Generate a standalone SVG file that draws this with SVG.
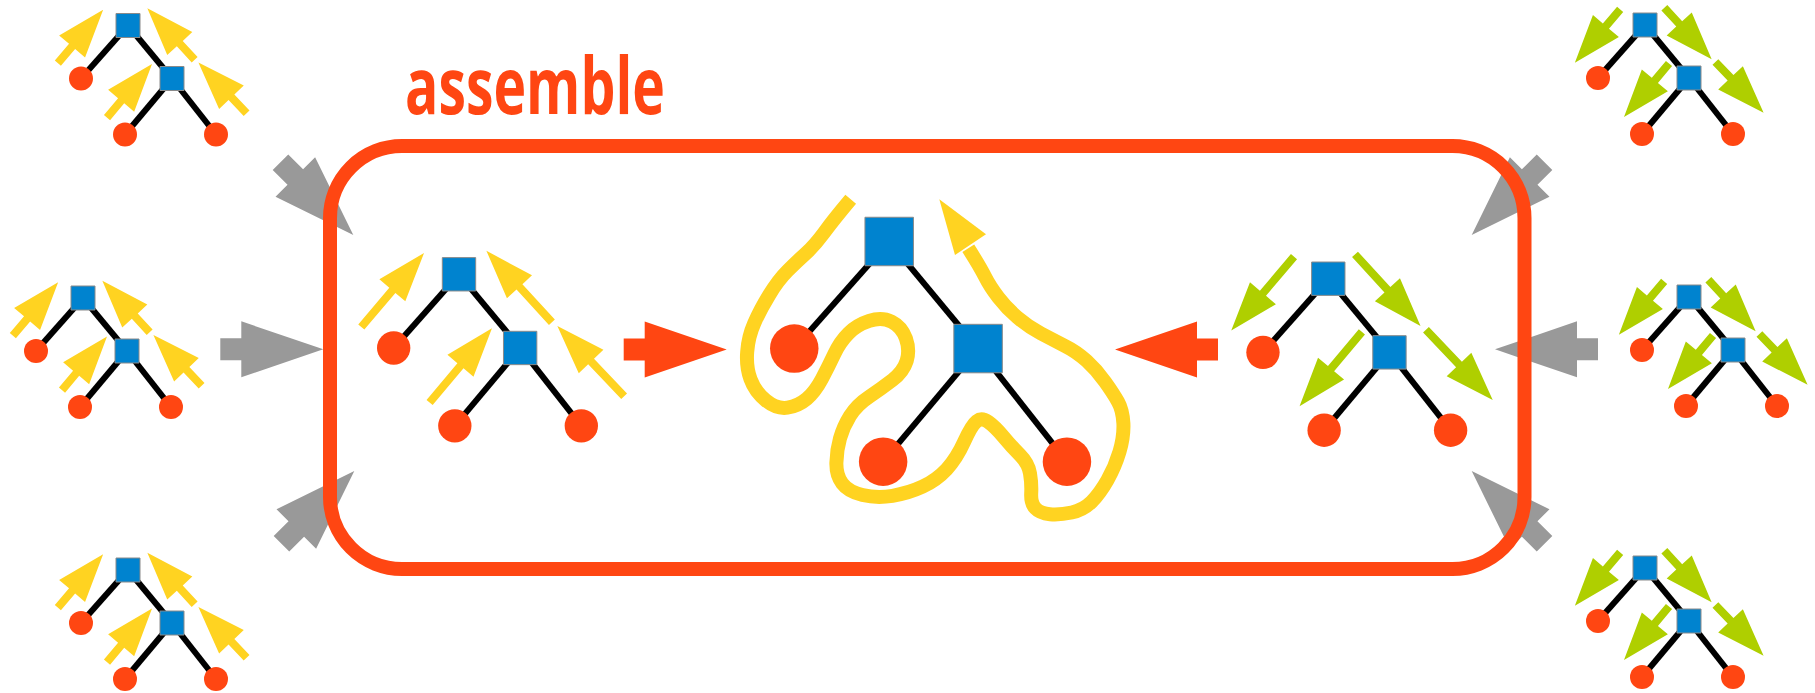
<svg xmlns="http://www.w3.org/2000/svg" xmlns:xlink="http://www.w3.org/1999/xlink" width="1815" height="693" viewBox="0 0 1815 693">
<style>
.edge{stroke:#000;stroke-width:6;vector-effect:non-scaling-stroke}
.leaf{fill:#FF4612}
.sq{fill:#0083CF;stroke:#8a8a8a;stroke-width:1;vector-effect:non-scaling-stroke}
.ya{fill:#FFD321}
.ga{fill:#AFCF00}
.gray{fill:#999999}
.red{fill:#FF4612}
.box{fill:none;stroke:#FF4612;stroke-width:14}
.curve{fill:none;stroke:#FFD321;stroke-width:14;stroke-linejoin:round}
.label{font-family:"Open Sans","Liberation Sans",sans-serif;font-weight:700;font-size:78px;fill:#FF4612}
</style>
<defs>
<path id="aS" d="M-35,-4H-13V-17L35,0L-13,17V4H-35Z"/>
<path id="aM" d="M-49,-4H-1V-17L48,0L-1,17V4H-49Z"/>
<path id="aB" d="M-103,-11H-82V-28L0,0L-82,28V11H-103Z"/>
<g id="skel">
<line class="edge" x1="0" y1="0" x2="-47" y2="53"/>
<line class="edge" x1="0" y1="0" x2="44" y2="53"/>
<line class="edge" x1="44" y1="53" x2="-3" y2="109"/>
<line class="edge" x1="44" y1="53" x2="88" y2="109"/>
<circle class="leaf" cx="-47" cy="53" r="12"/>
<circle class="leaf" cx="-3" cy="109" r="12"/>
<circle class="leaf" cx="88" cy="109" r="12"/>
<rect class="sq" x="-12" y="-12" width="24" height="24"/>
<rect class="sq" x="32" y="41" width="24" height="24"/>
</g>
<g id="tY">
<use href="#skel"/>
<g class="ya">
<use href="#aS" transform="translate(-47.5,11) rotate(-49.7)"/>
<use href="#aS" transform="translate(43,8.5) rotate(-132.5)"/>
<use href="#aS" transform="translate(1.5,65.3) rotate(-50)"/>
<use href="#aS" transform="translate(94.5,62.3) rotate(-133.5)"/>
</g>
</g>
<g id="tG">
<use href="#skel"/>
<g class="ga">
<use href="#aS" transform="translate(-47.5,11) rotate(130.3)"/>
<use href="#aS" transform="translate(43,8.5) rotate(47.5)"/>
<use href="#aS" transform="translate(1.5,65.3) rotate(130)"/>
<use href="#aS" transform="translate(94.5,62.3) rotate(46.5)"/>
</g>
</g>
</defs>

<g id="connectors">
<g class="gray">
<use href="#aB" transform="translate(353.3,235) rotate(45)"/>
<use href="#aB" transform="translate(323.3,349.3)"/>
<use href="#aB" transform="translate(354.3,471) rotate(-45)"/>
<use href="#aB" transform="translate(1471.7,235) rotate(135)"/>
<use href="#aB" transform="translate(1495,349.3) rotate(180)"/>
<use href="#aB" transform="translate(1471.7,471) rotate(-135)"/>
</g>
</g>

<g id="assemble-box">
<rect class="box" x="330" y="146" width="1194.5" height="423" rx="72" ry="72"/>
<text class="label" x="405" y="114" textLength="260" lengthAdjust="spacingAndGlyphs">assemble</text>
</g>

<g id="tree-left-top"><use href="#tY" transform="translate(128,25.5)"/></g>
<g id="tree-left-mid"><use href="#tY" transform="translate(83,298)"/></g>
<g id="tree-left-bottom"><use href="#tY" transform="translate(128,570)"/></g>
<g id="tree-right-top"><use href="#tG" transform="translate(1645,25)"/></g>
<g id="tree-right-mid"><use href="#tG" transform="translate(1689,297)"/></g>
<g id="tree-right-bottom"><use href="#tG" transform="translate(1645,568)"/></g>

<g id="tree-inner-left">
<use href="#skel" transform="translate(459,274.3) scale(1.39)"/>
<g class="ya">
<use href="#aM" transform="translate(393,289.6) rotate(-49.7)"/>
<use href="#aM" transform="translate(518.8,286.1) rotate(-132.5)"/>
<use href="#aM" transform="translate(461.1,365) rotate(-50)"/>
<use href="#aM" transform="translate(590.4,360.8) rotate(-133.5)"/>
</g>
</g>
<g id="tree-inner-right">
<use href="#skel" transform="translate(1328.3,278.7) scale(1.39)"/>
<g class="ga">
<use href="#aM" transform="translate(1262.3,294) rotate(130.3)"/>
<use href="#aM" transform="translate(1388.1,290.5) rotate(47.5)"/>
<use href="#aM" transform="translate(1330.4,369.4) rotate(130)"/>
<use href="#aM" transform="translate(1459.7,365.2) rotate(46.5)"/>
</g>
</g>

<g id="tree-center">
<use href="#skel" transform="translate(889.2,241.5) scale(2.02)"/>
<path class="curve" d="M850.7,199.3 Q833.3,220 824.2,232.5 Q815,245 805.9,253.4 Q796.7,261.7 787.5,270.9 Q778.3,280 769.2,295 Q760,310 754.2,323.4 Q748.3,336.7 747.2,351.7 Q746,366.7 750.5,379.2 Q755,391.7 765.9,400.5 Q776.7,409.3 787.5,407.7 Q798.3,406 806.7,398.9 Q815,391.7 821.7,379.2 Q828.3,366.7 834.2,354.2 Q840,341.7 848.4,333.4 Q856.7,325 869.2,320.9 Q881.7,316.7 891.7,321.7 Q901.7,326.7 905.9,338.4 Q910,350 906.7,360.9 Q903.3,371.7 892.5,380 Q881.7,388.3 869.2,396.7 Q856.7,405 850,415.9 Q843.3,426.7 840,438.4 Q836.7,450 836.4,462.5 Q836,475 842.2,483.4 Q848.3,491.7 862.5,495 Q876.7,498.3 892.5,495.8 Q908.3,493.3 922.5,486.7 Q936.7,480 946.7,469.2 Q956.7,458.3 964.2,441.7 Q971.7,425 976.7,421.2 Q981.7,417.3 988.4,422 Q995,426.7 1003.4,436.7 Q1011.7,446.7 1020,455 Q1028.3,463.3 1030,473.3 Q1031.7,483.3 1031.2,493.3 Q1030.7,503.3 1035.4,508.3 Q1040,513.3 1050,514.2 Q1060,515 1071.7,512.5 Q1083.3,510 1091.7,501.7 Q1100,493.3 1107.5,480 Q1115,466.7 1119.5,451.7 Q1124,436.7 1123.4,423.4 Q1122.7,410 1118,401.7 Q1113.3,393.3 1105,381.7 Q1096.7,370 1086.7,360.9 Q1076.7,351.7 1065,345.9 Q1053.3,340 1040.8,333.4 Q1028.3,326.7 1017.5,317.5 Q1006.7,308.3 998.4,297.5 Q990,286.7 985,276.7 Q980,266.7 968.3,248.3"/>
<polygon class="ya" points="939.3,199.3 955,255 986,234.3"/>
</g>

<g id="assemble-arrows">
<use class="red" href="#aB" transform="translate(726.7,349.5)"/>
<use class="red" href="#aB" transform="translate(1115,349.5) rotate(180)"/>
</g>
</svg>
